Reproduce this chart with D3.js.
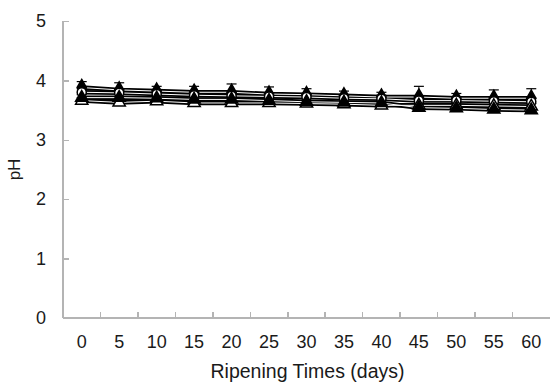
<!DOCTYPE html>
<meta charset="utf-8">
<style>
  body { margin: 0; background: #fff; }
  .axis text { font: 18px "Liberation Sans", Arial, sans-serif; fill: #1a1a1a; }
  .axis path, .axis line { stroke: #b4b4b4; stroke-width: 1.5; shape-rendering: crispEdges; }
  .title { font: 19.5px "Liberation Sans", Arial, sans-serif; fill: #1a1a1a; }
</style>
<svg class="chart"></svg>
<script src="https://d3js.org/d3.v7.min.js"></script>
<script>
  var days = [0, 5, 10, 15, 20, 25, 30, 35, 40, 45, 50, 55, 60];
  var yTicks = [0, 1, 2, 3, 4, 5];

  // four treatments, pH over ripening
  var diamondVals = [3.88, 3.84, 3.82, 3.80, 3.80, 3.77, 3.76, 3.74, 3.72, 3.72, 3.70, 3.70, 3.70];
  var diamondErr  = [0.10, 0.12, 0.08, 0.10, 0.14, 0.12, 0.10, 0.08, 0.08, 0.18, 0.08, 0.14, 0.16];
  var circleVals  = [3.80, 3.79, 3.77, 3.75, 3.74, 3.73, 3.72, 3.70, 3.69, 3.66, 3.66, 3.65, 3.64];
  var circleErr   = [0.06, 0.06, 0.06, 0.06, 0.06, 0.06, 0.06, 0.06, 0.06, 0.06, 0.06, 0.06, 0.06];
  var triFillVals = [3.71, 3.71, 3.70, 3.68, 3.68, 3.66, 3.64, 3.63, 3.62, 3.54, 3.53, 3.51, 3.50];
  var triFillErr  = [0.05, 0.05, 0.05, 0.05, 0.05, 0.05, 0.05, 0.05, 0.05, 0.05, 0.05, 0.05, 0.05];
  var triOpenVals = [3.66, 3.63, 3.65, 3.62, 3.62, 3.62, 3.61, 3.60, 3.58, 3.58, 3.58, 3.57, 3.56];
  var triOpenErr  = [0.05, 0.05, 0.05, 0.05, 0.05, 0.05, 0.05, 0.05, 0.05, 0.05, 0.05, 0.05, 0.05];

  var series = [
    {name: "A", vals: diamondVals, err: diamondErr, sym: d3.symbolDiamond, fill: "#000"},
    {name: "B", vals: circleVals, err: circleErr, sym: d3.symbolCircle, fill: "#fff"},
    {name: "C", vals: triOpenVals, err: triOpenErr, sym: d3.symbolTriangle, fill: "#fff"},
    {name: "D", vals: triFillVals, err: triFillErr, sym: d3.symbolTriangle, fill: "#000"}
  ];

  var W = 550, H = 385,
      plotL = 63, plotR = 550, plotT = 21, plotB = 318;

  var svg = d3.select(".chart").attr("width", W).attr("height", H);

  var x = d3.scaleBand().domain(days).range([plotL, plotR]);
  var y = d3.scaleLinear().domain([0, 5]).range([plotB, plotT]);

  // x axis: ticks between categories, pointing up
  var xg = svg.append("g").attr("class", "x axis");
  xg.append("line").attr("x1", plotL).attr("x2", plotR).attr("y1", plotB).attr("y2", plotB);
  xg.selectAll(".tk").data(days.slice(1)).enter().append("line")
    .attr("x1", d => x(d)).attr("x2", d => x(d))
    .attr("y1", plotB).attr("y2", plotB - 6);
  xg.selectAll("text").data(days).enter().append("text")
    .attr("x", d => x(d) + x.bandwidth() / 2)
    .attr("y", plotB + 30)
    .attr("text-anchor", "middle")
    .text(d => d);

  var yAxis = d3.axisLeft(y).tickValues(yTicks).tickSize(-6).tickPadding(17).tickFormat(d3.format("d"));
  var yg = svg.append("g").attr("class", "y axis")
    .attr("transform", "translate(" + plotL + ",0)")
    .call(yAxis);
  yg.select(".domain").attr("d", "M0," + plotT + "V" + plotB);

  svg.append("text").attr("class", "title")
    .attr("x", (plotL + plotR) / 2 + 1).attr("y", 378)
    .attr("text-anchor", "middle")
    .text("Ripening Times (days)");
  svg.append("text").attr("class", "title")
    .style("font-size", "17px")
    .attr("transform", "translate(20," + y(2.5) + ") rotate(-90)")
    .attr("text-anchor", "middle")
    .text("pH");

  var cx = d => x(d) + x.bandwidth() / 2;

  var line = d3.line().x((v, i) => cx(days[i])).y(v => y(v));

  // lines first (double line look: thick black with white core)
  series.forEach(function (s) {
    svg.append("path").attr("d", line(s.vals))
      .attr("fill", "none").attr("stroke", "#000").attr("stroke-width", 4.5);
  });
  series.forEach(function (s) {
    svg.append("path").attr("d", line(s.vals))
      .attr("fill", "none").attr("stroke", "#fff").attr("stroke-width", 1);
  });

  // error bars
  series.forEach(function (s) {
    var g = svg.append("g");
    s.vals.forEach(function (v, i) {
      var xc = cx(days[i]);
      g.append("line").attr("x1", xc).attr("x2", xc)
        .attr("y1", y(v)).attr("y2", y(v + s.err[i]))
        .attr("stroke", "#000").attr("stroke-width", 1);
      g.append("line").attr("x1", xc - 5).attr("x2", xc + 5)
        .attr("y1", y(v + s.err[i])).attr("y2", y(v + s.err[i]))
        .attr("stroke", "#000").attr("stroke-width", 1.2);
    });
  });

  // markers
  series.forEach(function (s) {
    svg.append("g").selectAll("path").data(s.vals).enter().append("path")
      .attr("d", d3.symbol().type(s.sym).size(s.sym === d3.symbolDiamond ? 75 : 65))
      .attr("transform", (v, i) => "translate(" + cx(days[i]) + "," + y(v) + ")")
      .attr("fill", s.fill).attr("stroke", "#000").attr("stroke-width", 1.5);
  });
</script>
